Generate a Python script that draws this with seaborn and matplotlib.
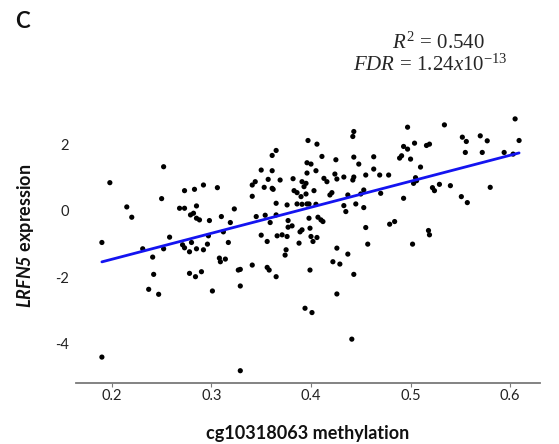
import matplotlib
matplotlib.use("Agg")
import matplotlib.pyplot as plt
import seaborn as sns
import pandas as pd

# ---- data ----
methylation = [
    0.365, 0.361, 0.350, 0.361, 0.357, 0.369, 0.344, 0.341, 0.353, 0.361,
    0.362, 0.341, 0.273, 0.283, 0.292, 0.306, 0.268, 0.273, 0.285, 0.279,
    0.282, 0.285, 0.288, 0.298, 0.323, 0.310, 0.319, 0.365, 0.376, 0.345,
    0.354, 0.359, 0.365, 0.377, 0.377, 0.258, 0.297, 0.312, 0.350, 0.356,
    0.366, 0.371, 0.376, 0.280, 0.271, 0.296, 0.317,
    0.252, 0.250, 0.220, 0.231, 0.252, 0.241, 0.273, 0.278, 0.242, 0.278,
    0.237, 0.247,
    0.285, 0.292, 0.375, 0.374, 0.308, 0.309, 0.314, 0.284, 0.290, 0.327,
    0.329, 0.341, 0.356, 0.358, 0.365, 0.329, 0.301, 0.329,
    0.426, 0.457, 0.422, 0.429, 0.437, 0.399, 0.443, 0.426, 0.394, 0.401,
    0.441,
    0.443, 0.442, 0.397, 0.406, 0.411, 0.425, 0.443, 0.463, 0.396, 0.400,
    0.448, 0.405, 0.463, 0.396, 0.424, 0.426, 0.413, 0.416, 0.433, 0.443,
    0.442, 0.455, 0.469, 0.478, 0.382, 0.391, 0.395, 0.393, 0.383, 0.386,
    0.403, 0.390, 0.395, 0.421, 0.419, 0.453, 0.450, 0.437, 0.470, 0.386,
    0.391, 0.396, 0.398, 0.405, 0.433, 0.435, 0.445, 0.453, 0.398, 0.407,
    0.410, 0.412, 0.381, 0.391, 0.389, 0.399, 0.455, 0.479, 0.484, 0.400,
    0.406, 0.388, 0.402,
    0.497, 0.534, 0.605, 0.493, 0.497, 0.504, 0.516, 0.519, 0.491, 0.489,
    0.500, 0.552, 0.556, 0.570, 0.577, 0.609, 0.555, 0.572, 0.594, 0.603,
    0.510, 0.505, 0.506, 0.503, 0.522, 0.524, 0.529, 0.540, 0.580, 0.493,
    0.551, 0.557, 0.518, 0.519, 0.502,
    0.190, 0.190, 0.198, 0.215,
]
expression = [
    1.82, 1.67, 1.23, 1.21, 0.95, 0.93, 0.88, 0.78, 0.71, 0.68,
    0.65, 0.44, 0.61, 0.65, 0.78, 0.70, 0.08, 0.08, 0.15, -0.12,
    -0.07, -0.22, -0.27, -0.29, 0.06, -0.17, -0.35, 0.23, 0.18, -0.17,
    -0.13, -0.35, -0.12, -0.29, -0.49, -0.79, -0.75, -0.63, -0.73, -0.92,
    -0.75, -0.72, -0.77, -0.95, -1.02, -1.00, -0.95,
    1.33, 0.37, -0.19, -1.14, -1.14, -1.39, -1.11, -1.23, -1.91, -1.88,
    -2.36, -2.51,
    -1.14, -1.17, -1.17, -1.33, -1.42, -1.53, -1.45, -1.98, -1.83, -1.78,
    -1.76, -1.63, -1.70, -1.78, -1.98, -2.26, -2.41, -4.81,
    -1.12, -1.00, -1.53, -1.60, -1.30, -1.78, -1.91, -2.50, -2.93, -3.06,
    -3.86,
    2.39, 2.24, 2.12, 2.01, 1.64, 1.54, 1.62, 1.63, 1.45, 1.41,
    1.41, 1.21, 1.26, 1.14, 1.11, 0.96, 0.98, 0.88, 1.02, 1.02,
    0.93, 1.08, 1.08, 1.08, 0.97, 0.88, 0.83, 0.73, 0.61, 0.55,
    0.61, 0.43, 0.51, 0.55, 0.48, 0.63, 0.51, 0.48, 0.53, 0.21,
    0.20, 0.21, 0.21, 0.20, 0.16, -0.02, 0.21, 0.10, -0.22, -0.19,
    -0.27, -0.32, -0.45, -0.57, -0.63, -0.52, -0.50, -0.40, -0.32, -0.77,
    -0.80, -0.97, -0.92,
    2.52, 2.59, 2.77, 1.94, 1.86, 2.04, 1.97, 2.01, 1.66, 1.59,
    1.56, 2.22, 2.09, 2.26, 2.11, 2.12, 1.76, 1.76, 1.76, 1.71,
    1.32, 1.00, 0.91, 0.83, 0.70, 0.61, 0.80, 0.76, 0.71, 0.38,
    0.43, 0.25, -0.59, -0.72, -1.00,
    -0.95, -4.40, 0.85, 0.12,
]
x_ticks = [0.2, 0.3, 0.4, 0.5, 0.6]
y_ticks = [-4, -2, 0, 2]
x_label = "cg10318063 methylation"
y_label = r"$\mathbfit{LRFN5}$ expression"
panel_label = "C"
r2_text = r"$R^2\,=\,0.540$"
fdr_text = r"$FDR\,=\,1.24x10^{-13}$"

df = pd.DataFrame({"methylation": methylation, "expression": expression})

sns.set_theme(style="white")
plt.rcParams["font.family"] = ["Lato", "DejaVu Sans"]
plt.rcParams["axes.unicode_minus"] = False
plt.rcParams["mathtext.fontset"] = "custom"
plt.rcParams["mathtext.rm"] = "Liberation Serif"
plt.rcParams["mathtext.it"] = "Liberation Serif:italic"
plt.rcParams["mathtext.bf"] = "Lato:bold"
plt.rcParams["mathtext.bfit"] = "Lato:bold:italic"

fig = plt.figure(figsize=(5.59, 4.44), dpi=100)
ax = fig.add_axes([76 / 559, 1 - 383 / 444, (540 - 76) / 559, (383 - 88) / 444])

sns.regplot(
    data=df, x="methylation", y="expression", ax=ax, ci=None,
    scatter_kws=dict(s=14, color="black", edgecolor="none", alpha=1),
    line_kws=dict(color="#1414f0", lw=2),
)

ax.set_xlim(0.164, 0.630)
ax.set_ylim(-5.18, 3.70)
ax.set_xticks(x_ticks)
ax.set_xticklabels([f"{t:.1f}" for t in x_ticks])
ax.set_yticks(y_ticks)
ax.set_yticklabels([str(t) for t in y_ticks])

for side in ["left", "top", "right"]:
    ax.spines[side].set_visible(False)
ax.spines["bottom"].set_color("#7a7a7a")
ax.spines["bottom"].set_linewidth(1.3)

ax.tick_params(axis="x", length=3, width=0.8, color="#7a7a7a", pad=1,
               labelsize=10.5, labelcolor="#222222", bottom=True)
ax.tick_params(axis="y", length=0, pad=5, labelsize=10.5, labelcolor="#222222")

ax.set_xlabel(x_label, fontsize=13, fontweight="bold", labelpad=16, color="#111111")
ax.set_ylabel(y_label, fontsize=13, fontweight="bold", labelpad=14, color="#111111")

fig.text(15 / 559, 1 - 21 / 444, panel_label, fontsize=16, fontweight="bold",
         va="center", ha="left", color="#111111")
fig.text(438 / 559, 1 - 42 / 444, r2_text, fontsize=15, ha="center", va="center")
fig.text(430 / 559, 1 - 64 / 444, fdr_text, fontsize=15, ha="center", va="center")

fig.savefig("out.png", dpi=100)
